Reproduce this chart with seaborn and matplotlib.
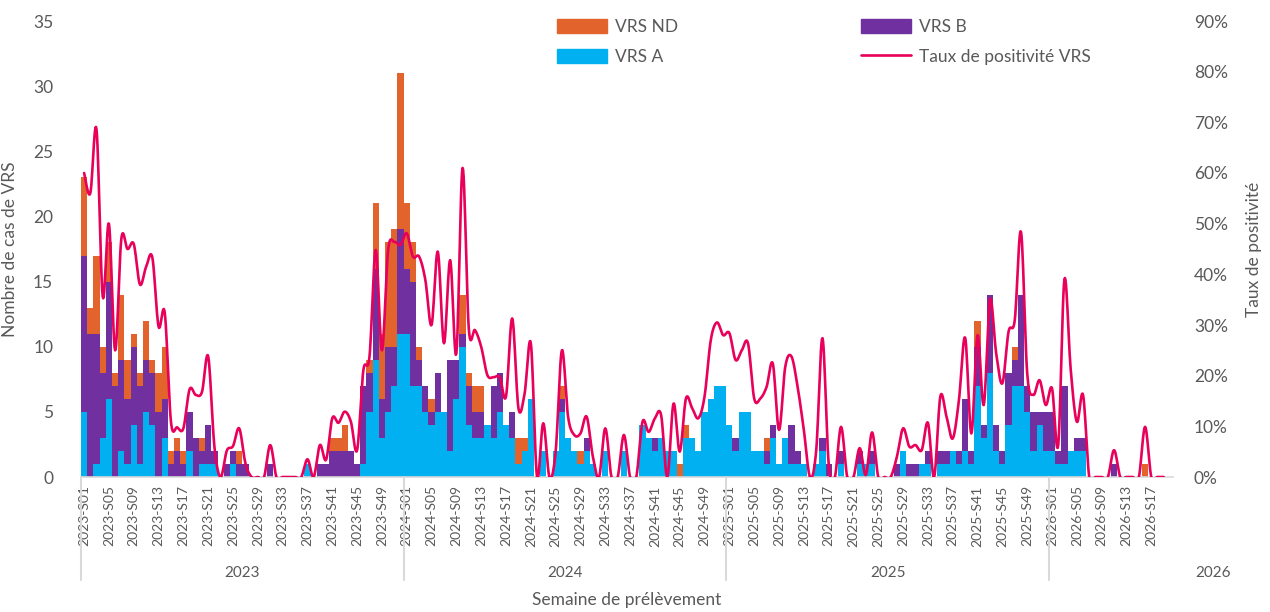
import numpy as np
import pandas as pd
import matplotlib
matplotlib.use("Agg")
import matplotlib.pyplot as plt
from matplotlib.patches import Patch
from matplotlib.lines import Line2D
from matplotlib.ticker import FuncFormatter, MultipleLocator
import seaborn as sns

# Semaines par annee
annees = [2023, 2024, 2025, 2026]
nb_semaines = [52, 52, 52, 20]

# Nombre de cas par semaine
vrs_a_2023 = [5, 0, 1, 3, 6, 0, 2, 1, 4, 1, 5, 4, 0, 3, 0, 0, 0, 2, 0, 1, 1, 1, 0, 0, 1, 0,
              0, 0, 0, 0, 0, 0, 0, 0, 0, 0, 1, 0, 0, 0, 0, 0, 0, 0, 0, 1, 5, 9, 3, 5, 7, 11]
vrs_b_2023 = [12, 11, 10, 5, 9, 7, 7, 5, 6, 6, 4, 4, 5, 3, 1, 2, 1, 3, 3, 1, 3, 1, 0, 1, 1, 1,
              1, 0, 0, 0, 1, 0, 0, 0, 0, 0, 0, 0, 1, 1, 2, 2, 2, 2, 1, 6, 3, 7, 3, 5, 3, 8]
vrs_nd_2023 = [6, 2, 6, 2, 3, 1, 5, 3, 1, 1, 3, 1, 3, 4, 1, 1, 1, 0, 0, 1, 0, 0, 0, 0, 0, 1,
               0, 0, 0, 0, 0, 0, 0, 0, 0, 0, 0, 0, 0, 0, 1, 1, 2, 0, 0, 0, 1, 5, 5, 8, 9, 12]

vrs_a_2024 = [11, 7, 7, 5, 4, 5, 5, 2, 6, 10, 4, 3, 3, 4, 3, 5, 4, 3, 1, 2, 6, 0, 2, 0, 2, 5,
              3, 2, 1, 2, 1, 0, 2, 0, 0, 2, 0, 0, 4, 3, 2, 3, 2, 2, 0, 3, 3, 2, 5, 6, 7, 7]
vrs_b_2024 = [5, 8, 2, 2, 1, 3, 0, 7, 3, 1, 3, 2, 2, 0, 4, 3, 0, 2, 0, 0, 0, 0, 0, 0, 0, 1,
              0, 0, 0, 1, 0, 0, 0, 0, 0, 0, 0, 0, 0, 0, 1, 0, 0, 0, 0, 0, 0, 0, 0, 0, 0, 0]
vrs_nd_2024 = [5, 3, 1, 0, 1, 0, 0, 0, 0, 3, 1, 2, 2, 0, 0, 0, 0, 0, 2, 1, 0, 0, 0, 0, 0, 1,
               0, 0, 1, 0, 0, 0, 0, 0, 0, 0, 0, 0, 0, 0, 0, 0, 0, 0, 1, 1, 0, 0, 0, 0, 0, 0]

vrs_a_2025 = [4, 2, 5, 5, 2, 2, 1, 3, 1, 3, 1, 1, 1, 0, 1, 2, 0, 0, 1, 0, 0, 1, 1, 1, 0, 0,
              0, 0, 2, 0, 0, 1, 1, 0, 1, 1, 2, 1, 2, 1, 7, 3, 8, 2, 1, 4, 7, 7, 5, 2, 4, 2]
vrs_b_2025 = [0, 1, 0, 0, 0, 0, 1, 1, 0, 0, 3, 1, 0, 0, 0, 1, 1, 0, 1, 0, 0, 1, 0, 1, 0, 0,
              0, 1, 0, 1, 1, 0, 1, 0, 1, 1, 0, 1, 4, 1, 3, 1, 6, 2, 1, 4, 2, 7, 2, 3, 1, 3]
vrs_nd_2025 = [0, 0, 0, 0, 0, 0, 1, 0, 0, 0, 0, 0, 0, 0, 0, 0, 0, 0, 0, 0, 0, 0, 0, 0, 0, 0,
               0, 0, 0, 0, 0, 0, 0, 0, 0, 0, 0, 0, 0, 0, 2, 0, 0, 0, 0, 0, 1, 0, 0, 0, 0, 0]

vrs_a_2026 = [2, 1, 1, 2, 2, 2, 0, 0, 0, 0, 0, 0, 0, 0, 0, 0, 0, 0, 0, 0]
vrs_b_2026 = [3, 1, 6, 0, 1, 1, 0, 0, 0, 0, 1, 0, 0, 0, 0, 0, 0, 0, 0, 0]
vrs_nd_2026 = [0, 0, 0, 0, 0, 0, 0, 0, 0, 0, 0, 0, 0, 0, 0, 1, 0, 0, 0, 0]

# Taux de positivite (%)
taux_2023 = [60, 56, 68.6, 35.6, 50, 25, 47, 45, 46, 38, 41.5, 43.3, 29.7, 32.4, 10.9, 9.8, 9.6,
             17.3, 16.2, 16.8, 23.8, 6, 0, 5.2, 6.1, 9.6, 2.7, 0, 0, 0, 6.3, 0, 0, 0, 0, 0,
             3.5, 0, 6.3, 3.4, 11.6, 10.7, 12.9, 10.9, 5.3, 21, 23.8, 44.8, 25, 44.8, 46.4, 45.8]
taux_2024 = [48.1, 43.5, 43.5, 38.9, 30, 44.5, 26.4, 42.8, 24.4, 61, 29.3, 29, 25.7, 20.1, 19.7,
             19.7, 15.9, 31.3, 13.6, 16.5, 26.4, 0, 10.6, 0, 5, 25, 11.9, 8.3, 8.6, 11.9, 4, 0,
             9.6, 0, 0, 8.3, 0, 0, 10.9, 8.9, 11.6, 12.2, 0, 14.5, 5, 15.5, 13.6, 11.6, 15.9,
             27, 30.5, 28]
taux_2025 = [28.4, 23.1, 25, 26.4, 15.5, 15.5, 17.8, 22.4, 9.3, 21.7, 23.8, 17.8, 9.3, 0, 5.3,
             27.4, 2.7, 0, 9.9, 0, 0, 5.7, 0.4, 8.8, 0, 0, 0, 4, 9.6, 6, 6.3, 5.3, 10.7, 0,
             15.9, 11.9, 7.6, 15.2, 27.5, 8.6, 28, 14.2, 35, 24.4, 18.5, 28.7, 31, 48.4, 20.5,
             16.2, 19.1, 14.2]
taux_2026 = [17.5, 6.3, 39, 21.4, 10.9, 16.2, 0, 0, 0, 0, 5.3, 0, 0, 0, 0, 9.9, 0, 0, 0, None]

COL_A = "#00B0F0"
COL_B = "#7030A0"
COL_ND = "#E2632B"
COL_LIGNE = "#E8005B"
GRIS = "#595959"

semaines = [f"{a}-S{s:02d}" for a, n in zip(annees, nb_semaines) for s in range(1, n + 1)]
df = pd.DataFrame({
    "semaine": semaines,
    "A": vrs_a_2023 + vrs_a_2024 + vrs_a_2025 + vrs_a_2026,
    "B": vrs_b_2023 + vrs_b_2024 + vrs_b_2025 + vrs_b_2026,
    "ND": vrs_nd_2023 + vrs_nd_2024 + vrs_nd_2025 + vrs_nd_2026,
    "taux": [np.nan if v is None else v / 100 for v in taux_2023 + taux_2024 + taux_2025 + taux_2026],
})
df["AB"] = df["A"] + df["B"]
df["total"] = df["AB"] + df["ND"]
n = len(df)


def lisser(x, y, pas=12):
    # courbe lissee type Excel (Bezier / Catmull-Rom)
    x = np.asarray(x, float)
    y = np.asarray(y, float)
    xp = np.r_[x[0], x, x[-1]]
    yp = np.r_[y[0], y, y[-1]]
    t = np.linspace(0, 1, pas, endpoint=False)[:, None]
    out_x, out_y = [], []
    for k in range(len(x) - 1):
        for arr, out in ((xp, out_x), (yp, out_y)):
            p0, p1, p2, p3 = arr[k], arr[k + 1], arr[k + 2], arr[k + 3]
            c1 = p1 + (p2 - p0) / 6
            c2 = p2 - (p3 - p1) / 6
            b = (1 - t) ** 3 * p1 + 3 * (1 - t) ** 2 * t * c1 + 3 * (1 - t) * t ** 2 * c2 + t ** 3 * p2
            out.extend(b.ravel())
    out_x.append(x[-1])
    out_y.append(y[-1])
    return np.array(out_x), np.array(out_y)


sns.set_style("white")
plt.rcParams["font.family"] = ["Lato", "DejaVu Sans"]

fig = plt.figure(figsize=(12.7, 6.12), dpi=100)
ax = fig.add_axes([81 / 1270, 1 - 477 / 612, 1092 / 1270, 456 / 612])

order = list(df["semaine"])
for col, couleur in (("total", COL_ND), ("AB", COL_B), ("A", COL_A)):
    sns.barplot(data=df, x="semaine", y=col, order=order, color=couleur, saturation=1,
                width=1, linewidth=0, ax=ax, errorbar=None)

ax.set_xlim(-0.5, n - 0.5)
ax.set_ylim(0, 35)
ax.yaxis.set_major_locator(MultipleLocator(5))
ax.set_xticks(range(0, n, 4))
ax.set_xticklabels(semaines[::4], rotation=90, fontsize=10, color=GRIS)
ax.set_xticks(np.arange(n), minor=True)
ax.tick_params(axis="x", which="major", length=0, pad=6)
ax.tick_params(axis="x", which="minor", length=2, color="#D9D9D9", width=0.8)
ax.tick_params(axis="y", length=0, pad=20, labelsize=12.5, labelcolor=GRIS)
for s in ("top", "left", "right"):
    ax.spines[s].set_visible(False)
ax.spines["bottom"].set_color("#D9D9D9")
ax.spines["bottom"].set_linewidth(1.2)
ax.set_xlabel("Semaine de prélèvement", fontsize=12.5, color=GRIS, va="center")
ax.xaxis.set_label_coords(0.5, -0.27)
ax.set_ylabel("Nombre de cas de VRS", fontsize=12.5, color=GRIS)
ax.yaxis.set_label_coords(-0.058, 0.5)

# separateurs et libelles des annees
trans = ax.get_xaxis_transform()
debut = 0
for a, nb in zip(annees, nb_semaines):
    ax.plot([debut - 0.5, debut - 0.5], [0, -0.226], transform=trans, color="#D9D9D9",
            lw=1.5, clip_on=False)
    centre = debut + nb / 2 - 0.5 if nb == 52 else debut + 26
    ax.text(centre, -0.21, str(a), transform=trans, ha="center", va="center",
            fontsize=11, color=GRIS)
    debut += nb

# taux de positivite
ax2 = ax.twinx()
valide = df["taux"].notna().to_numpy()
lx, ly = lisser(np.arange(n)[valide], df["taux"].to_numpy()[valide])
sns.lineplot(x=lx, y=ly, sort=False, color=COL_LIGNE, linewidth=1.9, ax=ax2)
ax2.set_ylim(0, 0.9)
ax2.set_xlim(-0.5, n - 0.5)
ax2.yaxis.set_major_locator(MultipleLocator(0.1))
ax2.yaxis.set_major_formatter(FuncFormatter(lambda v, p: f"{v * 100:.0f}%"))
ax2.tick_params(axis="y", length=0, pad=15, labelsize=12.5, labelcolor=GRIS)
for s in ax2.spines.values():
    s.set_visible(False)
ax2.set_ylabel("Taux de positivité", fontsize=12.5, color=GRIS, rotation=90)
ax2.yaxis.set_label_coords(1.067, 0.5)

poignees = [Patch(color=COL_ND), Patch(color=COL_A), Patch(color=COL_B),
            Line2D([], [], color=COL_LIGNE, lw=1.9)]
libelles = ["VRS ND", "VRS A", "VRS B", "Taux de positivité VRS"]
fig.legend(poignees, libelles, ncol=2, loc="upper left", bbox_to_anchor=(557 / 1270, 1 - 19 / 612),
           frameon=False, fontsize=12.5, labelcolor=GRIS, handlelength=2.9, handleheight=0.85,
           handletextpad=0.45, columnspacing=10.5, labelspacing=0.8, borderpad=0, borderaxespad=0)

fig.savefig("out.png", dpi=100)
